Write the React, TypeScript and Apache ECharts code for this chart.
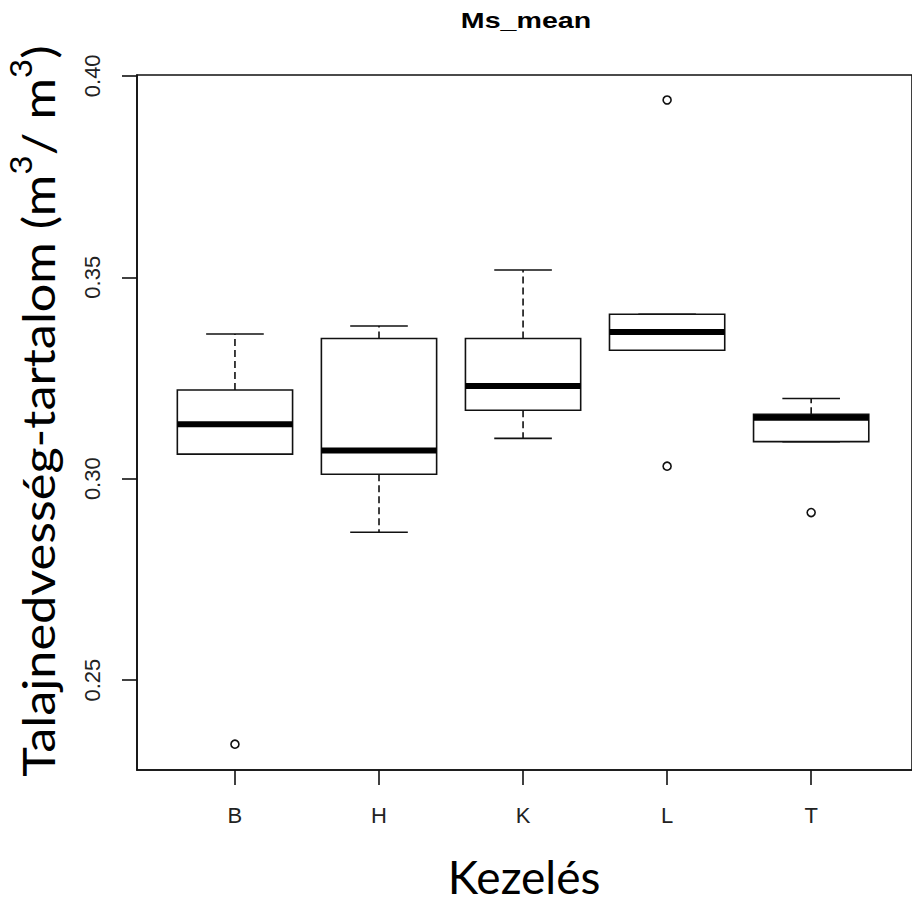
import React, { useEffect, useRef } from "react";
import * as echarts from "echarts";

// ---- data ----
const categories = ["B", "H", "K", "L", "T"];
const whiskerLow = [0.3061, 0.2867, 0.31, 0.3319, 0.3092];
const q1 = [0.3061, 0.3011, 0.317, 0.3319, 0.3092];
const median = [0.3135, 0.307, 0.323, 0.3364, 0.3151];
const q3 = [0.322, 0.3348, 0.3348, 0.3408, 0.316];
const whiskerHigh = [0.3359, 0.3379, 0.3518, 0.3408, 0.3199];
const outlierCategory = ["B", "L", "L", "T"];
const outlierValue = [0.2341, 0.394, 0.3031, 0.2916];
const yTicks = [0.25, 0.3, 0.35, 0.4];
const titleText = "Ms_mean";
const xAxisTitle = "Kezelés";

export default function App() {
  const ref = useRef<HTMLDivElement>(null);

  useEffect(() => {
    if (!ref.current) return;
    const chart = echarts.init(ref.current, undefined, { renderer: "svg" });

    const xPos = categories.map((_, i) => i + 1);
    const boxData = categories.map((_, i) => [
      xPos[i],
      whiskerLow[i],
      q1[i],
      median[i],
      q3[i],
      whiskerHigh[i],
    ]);
    const outData = outlierCategory.map((c, i) => [
      categories.indexOf(c) + 1,
      outlierValue[i],
    ]);

    const ink = "#111";
    const labelFont = "Liberation Sans";

    const option: any = {
      animation: false,
      backgroundColor: "#fff",
      grid: {
        show: true,
        left: 137,
        top: 75,
        width: 789,
        height: 695,
        borderColor: ink,
        borderWidth: 1.6,
        backgroundColor: "transparent",
      },
      xAxis: {
        type: "value",
        min: 0.32,
        max: 5.7,
        axisLine: { show: true, onZero: false, lineStyle: { color: ink, width: 1.6 } },
        axisTick: {
          show: true,
          customValues: xPos,
          length: 15,
          inside: false,
          lineStyle: { color: ink, width: 1.6 },
        },
        axisLabel: {
          customValues: xPos,
          formatter: (v: number) => categories[Math.round(v) - 1] ?? "",
          fontFamily: labelFont,
          fontSize: 22,
          color: "#222",
          margin: 34,
        },
        splitLine: { show: false },
      },
      yAxis: {
        type: "value",
        min: 0.2277,
        max: 0.4002,
        axisLine: { show: true, onZero: false, lineStyle: { color: ink, width: 1.6 } },
        axisTick: {
          show: true,
          customValues: yTicks,
          length: 15,
          lineStyle: { color: ink, width: 1.6 },
        },
        axisLabel: {
          customValues: yTicks,
          formatter: (v: number) => v.toFixed(2),
          rotate: 90,
          fontFamily: labelFont,
          fontSize: 22,
          color: "#222",
          margin: 34,
        },
        splitLine: { show: false },
      },
      graphic: [
        {
          type: "text",
          x: 526,
          y: 20,
          scaleX: 1.3,
          style: {
            text: titleText,
            font: `bold 22px "${labelFont}"`,
            fill: "#000",
            textAlign: "center",
            textVerticalAlign: "middle",
          },
        },
        {
          type: "text",
          x: 524,
          y: 876,
          style: {
            text: xAxisTitle,
            font: '46px "Lato"',
            fill: "#000",
            textAlign: "center",
            textVerticalAlign: "middle",
          },
        },
        {
          type: "text",
          x: 33,
          y: 411,
          rotation: Math.PI / 2,
          scaleX: 1.12,
          style: {
            text: "{n|Talajnedvesség-tartalom (m}{s|3}{n|/ m}{s|3}{n|)}",
            fill: "#000",
            textAlign: "center",
            textVerticalAlign: "middle",
            rich: {
              n: { fontFamily: "Lato", fontSize: 45, fill: "#000", verticalAlign: "bottom", lineHeight: 54 },
              s: { fontFamily: "Lato", fontSize: 30, fill: "#000", verticalAlign: "top", lineHeight: 54 },
            },
          },
        },
      ],
      series: [
        {
          type: "custom",
          data: boxData,
          encode: { x: 0, y: [1, 2, 3, 4, 5] },
          renderItem: (params: any, api: any) => {
            const x = api.value(0);
            const lo = api.value(1);
            const a = api.value(2);
            const m = api.value(3);
            const b = api.value(4);
            const hi = api.value(5);
            const half = 0.4;
            const cap = 0.2;
            const tl = api.coord([x - half, b]);
            const br = api.coord([x + half, a]);
            const stroke = { stroke: ink, lineWidth: 1.6, fill: null };
            const dash = { stroke: ink, lineWidth: 1.6, lineDash: [7, 4] };
            const seg = (p: number[], q: number[], style: any) => ({
              type: "line",
              shape: { x1: p[0], y1: p[1], x2: q[0], y2: q[1] },
              style,
            });
            return {
              type: "group",
              children: [
                seg(api.coord([x, b]), api.coord([x, hi]), dash),
                seg(api.coord([x, a]), api.coord([x, lo]), dash),
                seg(api.coord([x - cap, hi]), api.coord([x + cap, hi]), stroke),
                seg(api.coord([x - cap, lo]), api.coord([x + cap, lo]), stroke),
                {
                  type: "rect",
                  shape: { x: tl[0], y: tl[1], width: br[0] - tl[0], height: br[1] - tl[1] },
                  style: { stroke: ink, lineWidth: 1.6, fill: "#fff" },
                },
                seg(api.coord([x - half, m]), api.coord([x + half, m]), {
                  stroke: "#000",
                  lineWidth: 6,
                }),
              ],
            };
          },
          z: 2,
        },
        {
          type: "scatter",
          data: outData,
          symbol: "circle",
          symbolSize: 8,
          itemStyle: { color: "#fff", borderColor: ink, borderWidth: 1.6, opacity: 1 },
          z: 3,
        },
      ],
    };

    chart.setOption(option);
    return () => chart.dispose();
  }, []);

  return (
    <div
      ref={ref}
      style={{ position: "absolute", left: 0, top: 0, width: 912, height: 902 }}
    />
  );
}
